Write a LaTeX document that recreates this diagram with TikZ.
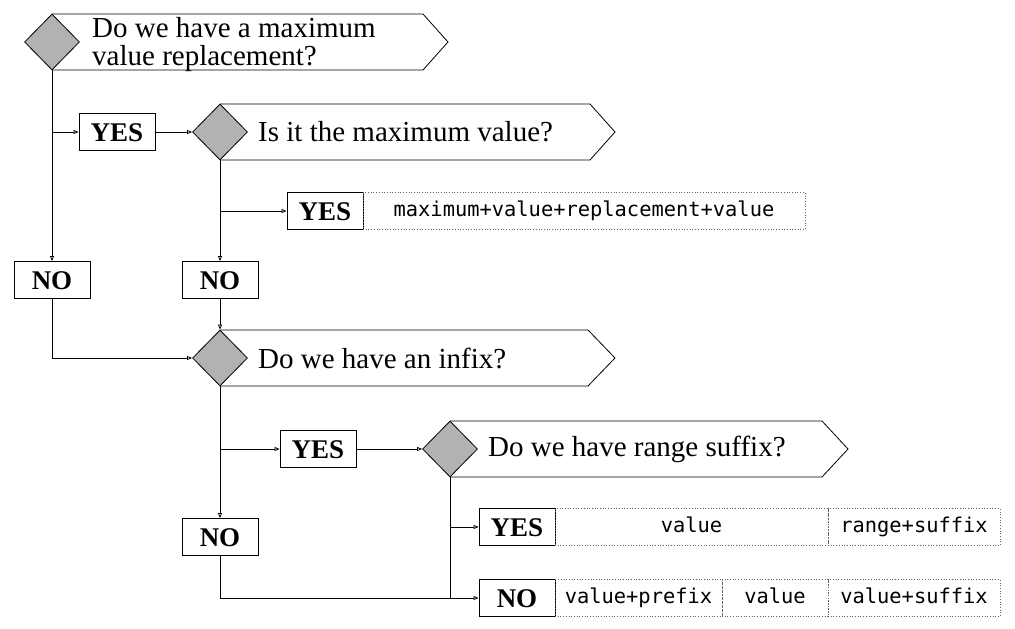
\documentclass[tikz,border=0pt]{standalone}
\usepackage{fontspec}
\setmainfont{Liberation Serif}
\setmonofont{DejaVu Sans Mono}
\usetikzlibrary{shapes.geometric,arrows.meta}
\begin{document}
\begin{tikzpicture}[x=1pt,y=-1pt,
  dia/.style={diamond, draw, fill=black!30, minimum width=55pt, minimum height=56pt, inner sep=0pt, line width=0.8pt},
  sig/.style={draw, fill=white, line width=0.8pt},
  ans/.style={draw, fill=white, line width=0.8pt, minimum width=76pt, minimum height=37pt, inner sep=0pt, text height=18pt, text depth=0pt, font=\fontsize{27}{27}\selectfont\bfseries},
  cell/.style={draw=black!60, dotted, line width=0.7pt, minimum height=37pt, inner sep=0pt, text height=14pt, text depth=4pt, font=\fontsize{20.4}{20.4}\selectfont\ttfamily},
  qtext/.style={anchor=west, align=left, font=\fontsize{29}{28}\selectfont, inner sep=0pt},
  conn/.style={line width=0.8pt},
  link/.style={conn, -{Triangle[open, length=5pt, width=4pt]}}
]
\useasboundingbox (0,0) rectangle (1015,629);

% question 1
\draw[sig] (52,14) -- (423,14) -- (448,42) -- (423,70) -- (52,70);
\node[dia] (d1) at (52,42) {};
\node[qtext] (t1) at (92,45) {Do we have a maximum\\value replacement?};

% question 2
\draw[sig] (220,104) -- (590,104) -- (615,132) -- (590,160) -- (220,160);
\node[dia] (d2) at (220,132) {};
\node[qtext] (t2) at (258,132) {Is it the maximum value?};

% question 3
\draw[sig] (220,330) -- (588,330) -- (615,358) -- (588,386) -- (220,386);
\node[dia] (d3) at (220,358) {};
\node[qtext] (t3) at (258,358) {Do we have an infix?};

% question 4
\draw[sig] (450,421) -- (822,421) -- (848,449) -- (822,477) -- (450,477);
\node[dia] (d4) at (450,449) {};
\node[qtext] (t4) at (488,449) {Do we have range suffix?};

% answers
\node[ans] (y1) at (117,132) {YES};
\node[ans] (n1) at (52,280) {NO};
\node[ans] (y2) at (325,211) {YES};
\node[cell, minimum width=442pt] (c1) at (584,211) {maximum+value+replacement+value};
\node[ans] (n2) at (220,280) {NO};
\node[ans] (y3) at (318,449) {YES};
\node[ans] (n3) at (220,537) {NO};
\node[ans] (y4) at (517,527) {YES};
\node[cell, minimum width=273pt] (c2) at (691.5,527) {value};
\node[cell, minimum width=172pt] (c3) at (914,527) {range+suffix};
\node[ans] (n4) at (517,598) {NO};
\node[cell, minimum width=167pt] (c4) at (638.5,598) {value+prefix};
\node[cell, minimum width=106pt] (c5) at (775,598) {value};
\node[cell, minimum width=172pt] (c6) at (914,598) {value+suffix};

% connectors
\draw[link] (d1.south) -- (n1.north);
\draw[link] (d1.south |- y1.west) -- (y1.west);
\draw[link] (y1.east) -- (d2.west);
\draw[link] (d2.south) -- (n2.north);
\draw[link] (d2.south |- y2.west) -- (y2.west);
\draw[link] (n1.south) |- (d3.west);
\draw[link] (n2.south) -- (d3.north);
\draw[link] (d3.south) -- (n3.north);
\draw[link] (d3.south |- y3.west) -- (y3.west);
\draw[link] (y3.east) -- (d4.west);
\draw[conn] (d4.south) -- (d4.south |- n4.west);
\draw[link] (d4.south |- y4.west) -- (y4.west);
\draw[link] (n3.south) |- (n4.west);
\end{tikzpicture}
\end{document}
